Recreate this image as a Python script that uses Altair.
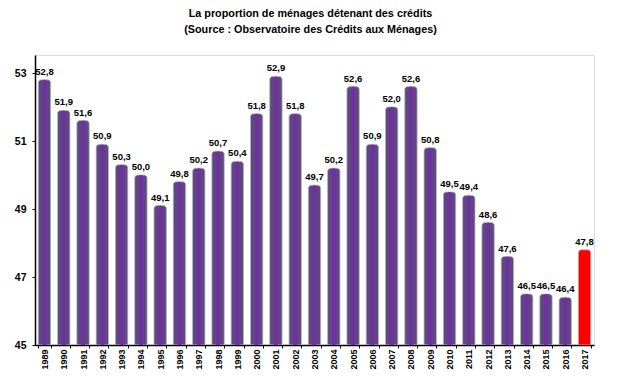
import altair as alt
import pandas as pd

years = [str(y) for y in range(1989, 2018)]
values = [52.8, 51.9, 51.6, 50.9, 50.3, 50.0, 49.1, 49.8, 50.2, 50.7, 50.4, 51.8,
          52.9, 51.8, 49.7, 50.2, 52.6, 50.9, 52.0, 52.6, 50.8, 49.5, 49.4, 48.6,
          47.6, 46.5, 46.5, 46.4, 47.8]
highlight = [False] * 28 + [True]

df = pd.DataFrame({
    "year": years,
    "value": values,
    "label": [f"{v:.1f}".replace(".", ",") for v in values],
    "hl": ["Oui" if h else "Non" for h in highlight],
})

FONT = "Liberation Sans, Arial, sans-serif"

x = alt.X("year:N", title=None, sort=years,
          scale=alt.Scale(paddingInner=0.36, paddingOuter=0.17),
          axis=alt.Axis(labelAngle=-90, labelFont=FONT, labelFontSize=9,
                        labelFontWeight="bold", labelColor="black", domainColor="black",
                        domainWidth=1.5, tickColor="black", tickSize=3, tickBand="extent",
                        labelPadding=1, labelBaseline="middle"))
y = alt.Y("value:Q", title=None,
          scale=alt.Scale(domain=[45, 53.53], nice=False, zero=False),
          axis=alt.Axis(values=[45, 47, 49, 51, 53], grid=False, labelFont=FONT,
                        labelFontSize=10.5, labelFontWeight="bold", labelColor="black",
                        domainColor="black", domainWidth=1.5, tickColor="black", tickSize=3,
                        labelPadding=6))

base = alt.Chart(df)

bars = base.mark_bar(cornerRadiusTopLeft=3, cornerRadiusTopRight=3, stroke="#b9b2c6",
                     strokeWidth=0.8, clip=True).encode(
    x=x, y=y, y2=alt.datum(45),
    color=alt.Color("hl:N", scale=alt.Scale(domain=["Non", "Oui"], range=["#5d4880", "#ff0000"]),
                    legend=None),
)

stripe = base.transform_filter(alt.datum.hl == "Non").mark_bar(
    size=4, color="#7030a0", cornerRadiusTopLeft=2, cornerRadiusTopRight=2, clip=True
).encode(x=x, y=alt.Y("value:Q"), y2=alt.datum(45))

labels = base.mark_text(dy=-8, font=FONT, fontSize=9.5, fontWeight="bold", color="black").encode(
    x=x, y=alt.Y("value:Q"), text="label:N")

chart = alt.layer(bars, stripe, labels).properties(
    width=559, height=290,
    title=alt.TitleParams(
        ["La proportion de ménages détenant des crédits",
         "(Source : Observatoire des Crédits aux Ménages)"],
        font=FONT, fontSize=10.8, fontWeight="bold", color="black", anchor="middle",
        lineHeight=16, offset=20, dx=-4),
    autosize=alt.AutoSizeParams(type="none"),
    padding={"left": 27, "top": 47, "right": 19, "bottom": 26},
).configure_view(stroke="#8c8c8c", strokeWidth=1.2).configure(background="white")

chart.save("out.html", embed_options={"renderer": "svg", "actions": False})
